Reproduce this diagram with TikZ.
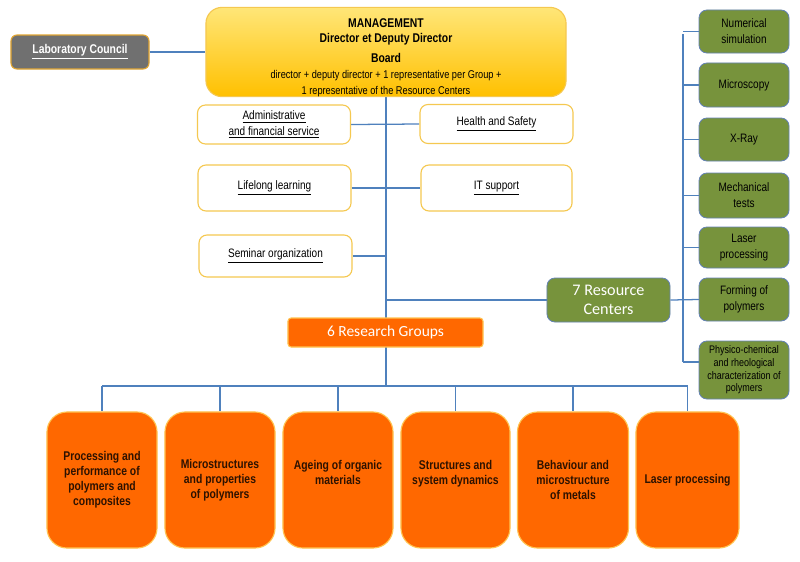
\documentclass[tikz,border=0pt]{standalone}
\usepackage{fontspec}
\setmainfont{Liberation Sans}[FakeStretch=0.82]
\newfontfamily\calfont{Carlito}
\usepackage{tikz}
\usetikzlibrary{positioning,backgrounds}
\definecolor{linkblue}{RGB}{79,129,189}
\definecolor{mgmttop}{RGB}{255,230,120}
\definecolor{mgmtbot}{RGB}{255,192,0}
\definecolor{goldline}{RGB}{245,200,80}
\definecolor{councilgray}{RGB}{112,112,112}
\definecolor{councilline}{RGB}{225,165,50}
\definecolor{rcgreen}{RGB}{119,147,60}
\definecolor{rcedge}{RGB}{100,130,180}
\definecolor{rgorange}{RGB}{255,104,0}
\definecolor{rgedge}{RGB}{255,195,80}
\definecolor{rgtext}{RGB}{45,18,0}

\begin{document}
\begin{tikzpicture}[x=0.025cm,y=-0.025cm,
  mgmtbox/.style={rectangle,rounded corners=0.4cm,draw=goldline,line width=0.8pt,
                  top color=mgmttop,bottom color=mgmtbot,minimum width=9cm,
                  minimum height=2.2cm,align=center,inner sep=0pt,
                  font=\fontsize{8}{11.2}\selectfont},
  councilbox/.style={rectangle,rounded corners=0.15cm,draw=councilline,line width=0.8pt,
                  fill=councilgray,text=white,minimum width=3.45cm,minimum height=0.85cm,
                  font=\fontsize{9}{11}\selectfont\bfseries},
  servicebox/.style={rectangle,rounded corners=0.2cm,draw=goldline,line width=0.8pt,
                  fill=white,minimum width=3.825cm,align=center,inner sep=0pt,
                  font=\fontsize{8.7}{11}\selectfont},
  centerbox/.style={rectangle,rounded corners=0.2cm,draw=rcedge,line width=0.6pt,
                  fill=rcgreen,minimum width=2.25cm,align=center,inner sep=0pt,
                  font=\fontsize{8.7}{11.4}\selectfont},
  groupbox/.style={rectangle,rounded corners=0.5cm,draw=rgedge,line width=0.8pt,
                  fill=rgorange,minimum height=3.4cm,align=center,inner sep=0pt,
                  text=rgtext,font=\fontsize{9}{10.7}\selectfont\bfseries},
  link/.style={draw=linkblue,line width=0.9pt}
]
\useasboundingbox (0,0) rectangle (800,561);
\begin{scope}[on background layer]
\fill[white] (0,0) rectangle (800,561);
\end{scope}

% management and council
\node[mgmtbox] (mgmt) at (386,52) {\rule{0pt}{14pt}{\fontsize{9}{11.2}\selectfont\bfseries MANAGEMENT}\\
  {\fontsize{9}{11.2}\selectfont\bfseries Director et Deputy Director}\\[3pt]
  {\fontsize{9}{11.2}\selectfont\bfseries Board}\\
  director + deputy director + 1 representative per Group +\\
  1 representative of the Resource Centers};
\node[councilbox] (council) at (80,52) {\underline{Laboratory Council}};

% services
\node[servicebox,minimum height=0.975cm] (admin) at (274,124.5)
  {\underline{Administrative}\\\underline{and financial service}};
\node[servicebox,minimum height=0.975cm] (health) at (496.5,124) {\underline{Health and Safety}};
\node[servicebox,minimum height=1.15cm] (lifelong) at (274.5,188) {\underline{Lifelong learning}};
\node[servicebox,minimum height=1.15cm,minimum width=3.775cm] (itsup) at (496.5,188) {\underline{IT support}};
\node[servicebox,minimum height=1.05cm] (seminar) at (275.5,256) {\underline{Seminar organization}};

% resource centers
\node[centerbox,minimum width=3.075cm,minimum height=1.1cm,text=white,
      font=\calfont\fontsize{11.5}{14}\selectfont] (rc7) at (608.5,300) {7 Resource\\Centers};
\node[centerbox,minimum height=1.075cm] (num) at (744,31.5) {Numerical\\simulation};
\node[centerbox,minimum height=1.1cm] (micro) at (744,85) {Microscopy};
\node[centerbox,minimum height=1.075cm] (xray) at (744,139.5) {X-Ray};
\node[centerbox,minimum height=1.125cm] (mech) at (744,195.5) {Mechanical\\tests};
\node[centerbox,minimum height=1.025cm] (laser) at (744,247.5) {Laser\\processing};
\node[centerbox,minimum height=1.075cm] (forming) at (744,299.5) {Forming of\\polymers};
\node[centerbox,minimum height=1.45cm,font=\fontsize{7.8}{9}\selectfont] (physico) at (744,370)
  {Physico-chemical\\and rheological\\characterization of\\polymers};

% research groups
\node[rectangle,rounded corners=0.08cm,draw=rgedge,line width=0.8pt,fill=rgorange,
      minimum width=4.875cm,minimum height=0.725cm,text=white,
      font=\calfont\fontsize{11}{13}\selectfont] (rg6) at (385.5,332.5) {6 Research Groups};
\node[groupbox,minimum width=2.75cm] (grp1) at (102,480)
  {Processing and\\performance of\\polymers and\\composites};
\node[groupbox,minimum width=2.75cm] (grp2) at (220,480)
  {Microstructures\\and properties\\of polymers};
\node[groupbox,minimum width=2.75cm] (grp3) at (338,480) {Ageing of organic\\materials\\\mbox{}};
\node[groupbox,minimum width=2.725cm] (grp4) at (455.5,480) {Structures and\\system dynamics\\\mbox{}};
\node[groupbox,minimum width=2.775cm] (grp5) at (573,480)
  {Behaviour and\\microstructure\\of metals};
\node[groupbox,minimum width=2.575cm] (grp6) at (687.5,480) {Laser processing};

\coordinate (bus) at (386,386);
\coordinate (spine) at (683,34);
\coordinate (spinebot) at (683,362);

% connectors
\begin{scope}[on background layer]
\draw[link] (council.east) -- (mgmt.west);
\draw[link] (mgmt.south) -- (bus);
\draw[link] (admin.east) -- (health.west);
\draw[link] (lifelong.east) -- (itsup.west);
\draw[link] (seminar.east) -- (seminar.east -| bus);
\draw[link] (rc7.west -| bus) -- (rc7.west);
\draw[link] (rc7.east) -- (forming.west);
\draw[link] (spine) -- (spinebot);
\foreach \c in {num,micro,xray,mech,laser,forming}
  \draw[link] (spine |- \c.west) -- (\c.west);
\draw[link] (spinebot) -- (spinebot -| physico.west);
\draw[link] (grp1.north |- bus) -- (grp6.north |- bus);
\foreach \g in {grp1,grp2,grp3,grp4,grp5,grp6}
  \draw[link] (\g.north |- bus) -- (\g.north);
\end{scope}
\end{tikzpicture}
\end{document}
